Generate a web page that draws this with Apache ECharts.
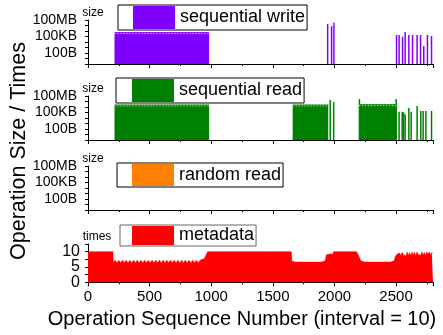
<!DOCTYPE html>
<html>
<head>
<meta charset="utf-8">
<script src="https://cdn.jsdelivr.net/npm/echarts@6/dist/echarts.min.js"></script>
<style>
  html, body { margin: 0; padding: 0; background: #fff; }
  #chart { width: 443px; height: 335px; }
</style>
</head>
<body>
<div id="chart"></div>
<script>
// operation sequence number (interval = 10) on x, op size (bytes) / times on y
const xTicks = [0, 500, 1000, 1500, 2000, 2500]
const sizeTickLabels = { 2: '100B', 5: '100KB', 8: '100MB' }

// [start, end, size] runs of continuous operations
const writeBlocks = [[215, 983, 5e5]]
const writeSpikes = [
  [1945, 1.9e7], [1977, 8e6], [1996, 3.2e7],
  [2504, 1.9e5], [2525, 1.9e5], [2553, 9e4], [2574, 6.6e5], [2604, 1.9e5],
  [2634, 1.9e5], [2671, 1.9e5], [2699, 1.9e5], [2725, 1.9e3], [2755, 1.9e5], [2788, 1.2e5]
]
const readBlocks = [[215, 983, 2.3e6], [1661, 1950, 2.3e6], [2201, 2504, 2.6e6]]
const readSpikes = [
  [1966, 1.9e7], [1994, 8e6], [2203, 2.8e7], [2501, 2.8e7],
  [2525, 1.4e5], [2550, 1.4e5], [2561, 1.1e5], [2574, 4.7e4], [2604, 6.6e5], [2623, 1.4e5],
  [2671, 1.6e6], [2701, 1.9e5], [2720, 1.9e5], [2742, 1.9e5], [2788, 1.9e5]
]
const randomRead = []
const metadata = [
  [0, 10], [203, 10], [205, 6.4], [220, 7.2], [235, 6.4], [250, 7.2], [265, 6.4], [280, 7.2],
  [295, 6.4], [310, 7.2], [325, 6.4], [340, 7.2], [355, 6.4], [370, 7.2], [385, 6.4], [400, 7.2],
  [415, 6.4], [430, 7.2], [445, 6.4], [460, 7.2], [475, 6.4], [490, 7.2], [505, 6.4], [520, 7.2],
  [535, 6.4], [550, 7.2], [565, 6.4], [580, 7.2], [595, 6.4], [610, 7.2], [625, 6.4], [640, 7.2],
  [655, 6.4], [670, 7.2], [685, 6.4], [700, 7.2], [715, 6.4], [730, 7.2], [745, 6.4], [760, 7.2],
  [775, 6.4], [790, 7.2], [805, 6.4], [820, 7.2], [835, 6.4], [850, 7.2], [865, 6.4], [880, 7.2],
  [895, 6.4], [910, 7.2], [925, 7.0], [945, 7.8], [960, 8.3], [970, 10],
  [1440, 10], [1450, 9.7], [1460, 10], [1650, 10], [1655, 6.9],
  [1670, 7.2], [1685, 6.6], [1700, 7.2], [1715, 6.6], [1730, 7.2], [1745, 6.6], [1760, 7.2],
  [1775, 6.6], [1790, 7.2], [1805, 6.6], [1820, 7.2], [1835, 6.6], [1850, 7.2], [1865, 6.6],
  [1880, 7.2], [1895, 6.6], [1910, 7.2], [1925, 7.0],
  [1935, 9.0], [1960, 9.2], [1975, 8.8], [1988, 9.2], [1992, 10], [2180, 10], [2215, 7.0],
  [2230, 7.2], [2245, 6.6], [2260, 7.2], [2275, 6.6], [2290, 7.2], [2305, 6.6], [2320, 7.2],
  [2335, 6.6], [2350, 7.2], [2365, 6.6], [2380, 7.2], [2395, 6.6], [2410, 7.2], [2425, 6.6],
  [2440, 7.2], [2455, 6.6], [2470, 7.2], [2485, 7.0],
  [2495, 8.5], [2510, 9.2], [2520, 8.8], [2530, 9.6], [2540, 8.7], [2550, 9.8], [2560, 8.9],
  [2570, 9.5], [2580, 8.6], [2590, 9.9], [2600, 8.8], [2610, 9.7], [2620, 8.7], [2630, 9.9],
  [2640, 9.0], [2650, 9.8], [2660, 8.5], [2670, 9.9], [2680, 9.1], [2690, 9.6], [2700, 8.8],
  [2710, 9.9], [2720, 9.0], [2730, 9.7], [2740, 8.6], [2750, 9.9], [2760, 9.2], [2770, 9.9],
  [2780, 9.0], [2790, 9.8], [2800, 9.3]
]

const FONT = 'Liberation Sans, Arial, sans-serif'
const panels = [
  { name: 'sequential write', color: '#8000ff', top: 20, height: 44, legend: [118, 5, 23, 15, '#000'] },
  { name: 'sequential read', color: '#008000', top: 96, height: 44, legend: [116, 78, 23, 16, '#000'] },
  { name: 'random read', color: '#ff8000', top: 166, height: 44, legend: [117, 163, 22, 15, '#000'] },
  { name: 'metadata', color: '#ff0000', top: 244, height: 38.3, legend: [120, 225, 19, 12, '#666'] }
]

const chart = echarts.init(document.getElementById('chart'))

const grid = panels.map(p => ({ left: 88, right: 10, top: p.top, height: p.height }))

const xAxis = []
panels.forEach((p, i) => {
  const last = i === panels.length - 1
  xAxis.push({
    type: 'value', gridIndex: i, min: 0, max: 2800, interval: 500, position: 'bottom',
    axisLine: { lineStyle: { color: '#000', width: 1 } },
    axisTick: { length: 4, lineStyle: { color: '#000' } },
    splitLine: { show: false },
    axisLabel: {
      show: last, color: '#000', fontSize: 15, fontFamily: FONT, margin: 7,
      formatter: v => xTicks.includes(v) ? String(v) : ''
    }
  })
  // minor ticks every 250
  xAxis.push({
    type: 'value', gridIndex: i, min: 0, max: 2800, interval: 250, position: 'bottom',
    axisLine: { show: false },
    axisTick: { length: 2, lineStyle: { color: '#000' } },
    splitLine: { show: false },
    axisLabel: { show: false }
  })
})

const yAxis = panels.map((p, i) => {
  const common = {
    gridIndex: i,
    nameLocation: 'end',
    nameMoveOverlap: false,
    axisLine: { show: true, lineStyle: { color: '#000', width: 1 } },
    axisTick: { show: true, length: 3, lineStyle: { color: '#000' } },
    splitLine: { show: false }
  }
  if (i < 3) {
    return Object.assign(common, {
      type: 'log', logBase: 10, min: 1, max: 1e8, splitNumber: 8,
      name: 'size', nameGap: 1,
      nameTextStyle: { color: '#000', fontSize: 12, fontFamily: FONT, padding: [0, 0, 0, 10] },
      axisLabel: {
        color: '#000', fontSize: 14, fontFamily: FONT, margin: 11,
        formatter: v => sizeTickLabels[Math.round(Math.log10(v))] || ''
      }
    })
  }
  return Object.assign(common, {
    type: 'value', min: 0, max: 12.5, interval: 2.5,
    name: 'times', nameGap: 1,
    nameTextStyle: { color: '#000', fontSize: 12, fontFamily: FONT, padding: [0, 0, 0, 18] },
    axisLabel: {
      color: '#000', fontSize: 16, fontFamily: FONT, margin: 8,
      formatter: v => v % 5 === 0 ? String(v) : ''
    }
  })
})

const series = []
function addBlocks(blocks, idx, p) {
  blocks.forEach(b => {
    series.push({
      name: p.name, type: 'line', xAxisIndex: idx * 2, yAxisIndex: idx,
      data: [[b[0], b[2]], [b[1], b[2]]], color: p.color,
      symbol: 'none', lineStyle: { width: 1, color: p.color },
      areaStyle: { origin: 'start', color: p.color, opacity: 1 }, silent: true
    })
    // dotted light edge seen along the top of each dense run
    series.push({
      name: '_edge', type: 'line', xAxisIndex: idx * 2, yAxisIndex: idx,
      data: [[b[0], b[2] / 1.45], [b[1], b[2] / 1.45]],
      symbol: 'none', lineStyle: { width: 1, color: '#fff', type: [1, 2] }, silent: true, z: 3
    })
  })
}
function addSpikes(spikes, idx, p) {
  series.push({
    name: p.name, type: 'bar', xAxisIndex: idx * 2, yAxisIndex: idx,
    data: spikes, barWidth: 1.5, color: p.color, itemStyle: { color: p.color }, silent: true
  })
}
addBlocks(writeBlocks, 0, panels[0])
addSpikes(writeSpikes, 0, panels[0])
addBlocks(readBlocks, 1, panels[1])
addSpikes(readSpikes, 1, panels[1])
series.push({
  name: panels[2].name, type: 'line', xAxisIndex: 4, yAxisIndex: 2, data: randomRead,
  color: panels[2].color, symbol: 'none', areaStyle: { origin: 'start' }
})
series.push({
  name: panels[3].name, type: 'line', xAxisIndex: 6, yAxisIndex: 3, data: metadata,
  color: panels[3].color, symbol: 'none', lineStyle: { width: 0.5, color: panels[3].color },
  areaStyle: { origin: 'start', color: panels[3].color, opacity: 1 }, silent: true
})

const legend = panels.map(p => ({
  data: [p.name], left: p.legend[0], top: p.legend[1],
  icon: 'rect', itemWidth: 42, itemHeight: p.legend[2],
  padding: [1, 2, 1, p.legend[3]],
  borderColor: p.legend[4], borderWidth: 1, selectedMode: false,
  itemStyle: { color: p.color, borderWidth: 0 },
  textStyle: { color: '#000', fontSize: 18, fontFamily: FONT }
}))

chart.setOption({
  animation: false,
  backgroundColor: '#fff',
  grid, xAxis, yAxis, series, legend,
  graphic: [
    {
      type: 'text', x: 19, y: 151, rotation: Math.PI / 2,
      style: { text: 'Operation Size / Times', fill: '#000', font: '21.5px ' + FONT, textAlign: 'center', textVerticalAlign: 'middle' }
    },
    {
      type: 'text', x: 242, y: 319,
      style: { text: 'Operation Sequence Number (interval = 10)', fill: '#000', font: '20px ' + FONT, textAlign: 'center', textVerticalAlign: 'middle' }
    }
  ]
})
</script>
</body>
</html>
